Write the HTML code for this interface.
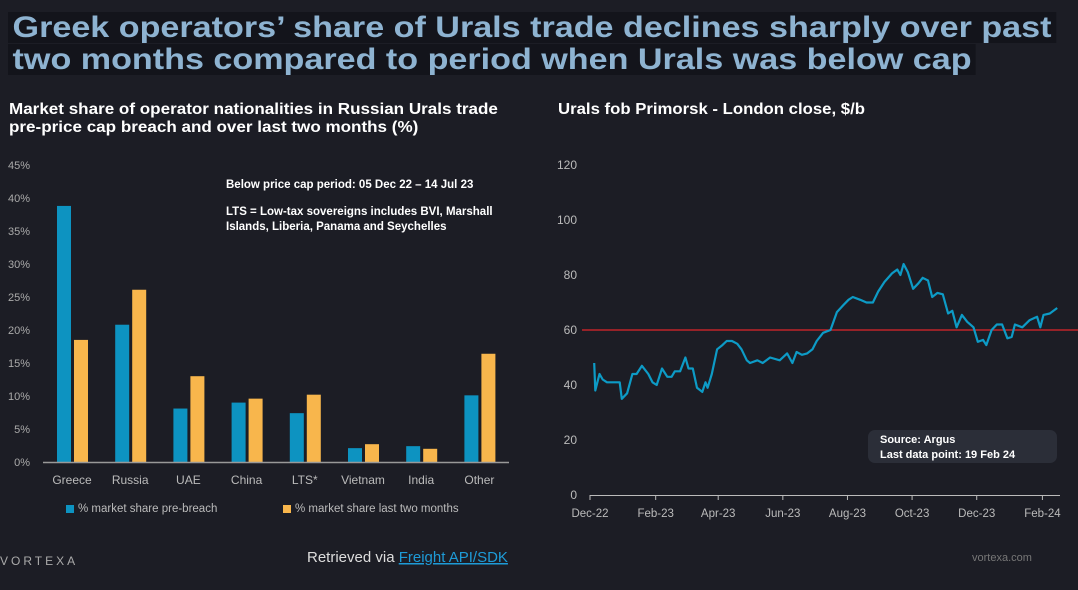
<!DOCTYPE html>
<html><head><meta charset="utf-8"><style>
body{margin:0;width:1078px;height:590px;background:#1c1d25;font-family:"Liberation Sans",sans-serif;overflow:hidden;position:relative}
.t{position:absolute;left:8px;background:#13141b;color:#8eb3d1;font-weight:bold;font-size:30px;line-height:31px;padding:0 4px;white-space:nowrap;transform:scaleX(1.137);transform-origin:0 0}
.s{position:absolute;color:#fff;font-weight:bold;font-size:15.5px;line-height:18px;white-space:nowrap;transform-origin:0 0}
</style></head><body>
<div class="t" style="top:12px">Greek operators’ share of Urals trade declines sharply over past</div>
<div class="t" style="top:44px">two months compared to period when Urals was below cap</div>
<div class="s" style="left:9px;top:101px;transform:scaleX(1.1)">Market share of operator nationalities in Russian Urals trade<br>pre-price cap breach and over last two months (%)</div>
<div class="s" style="left:558px;top:101px;transform:scaleX(1.08)">Urals fob Primorsk - London close, $/b</div>
<svg width="1078" height="590" style="position:absolute;left:0;top:0" font-family="Liberation Sans, sans-serif">
<g id="bar"></g>
<g id="line"></g>
<text x="226" y="188" fill="#fff" font-size="11.5" font-weight="bold">Below price cap period: 05 Dec 22 – 14 Jul 23</text>
<text x="226" y="215" fill="#fff" font-size="11.5" font-weight="bold">LTS = Low-tax sovereigns includes BVI, Marshall</text>
<text x="226" y="230" fill="#fff" font-size="11.5" font-weight="bold">Islands, Liberia, Panama and Seychelles</text>
<rect x="66" y="505" width="8" height="8" fill="#0d93c1"/>
<text x="78" y="512" fill="#bbb" font-size="11.5">% market share pre-breach</text>
<rect x="283" y="505" width="8" height="8" fill="#f8b64c"/>
<text x="295" y="512" fill="#bbb" font-size="11.5">% market share last two months</text>
<rect x="868" y="430" width="189" height="33" rx="7" fill="#2b2e38"/>
<text x="880" y="443" fill="#fff" font-size="11" font-weight="bold">Source: Argus</text>
<text x="880" y="458" fill="#fff" font-size="11" font-weight="bold">Last data point: 19 Feb 24</text>
<text x="0" y="565" fill="#aaa" font-size="12" letter-spacing="3">VORTEXA</text>
<text x="307" y="562" fill="#ddd" font-size="15">Retrieved via <tspan fill="#1e9bd7" text-decoration="underline">Freight API/SDK</tspan></text>
<text x="972" y="561" fill="#777" font-size="11">vortexa.com</text>
</svg>
<script>
const cats=["Greece","Russia","UAE","China","LTS*","Vietnam","India","Other"];
const preBreach=[38.8,20.8,8.1,9.0,7.4,2.1,2.4,10.1];
const lastTwo=[18.5,26.1,13.0,9.6,10.2,2.7,2.0,16.4];
const pctTicks=[0,5,10,15,20,25,30,35,40,45];
const days=[4,5,9,12,16,22,28,30,35,40,44,49,55,59,63,68,73,77,80,85,90,93,97,101,106,109,111,115,120,125,129,134,139,143,148,151,158,163,170,179,186,191,195,200,205,210,214,220,227,233,239,244,248,255,261,267,272,278,285,290,293,296,300,305,310,314,319,323,328,333,338,342,346,351,356,362,366,371,374,379,384,389,394,398,401,408,415,422,425,428,434,441];
const price=[48,38,44,42,41,41,41,35,37,44,44,47,44,41,40,46,43,43,45,45,50,46,46,39,37.5,41,39,44,53,54.5,56,56,55,53,49,48,49,48,50,49,51.5,48,52,51,51.5,53,56,59,60,66.5,69,71,72,71,70,70,74,77.5,80.6,82,80,84,81,75,77,79,78,72,73.5,73,66,67,61,65.5,63,61,55.7,56.4,54.5,60,62,62,57,57.5,62,61,63.6,64.8,61,65.5,66,68];
const priceTicks=[0,20,40,60,80,100,120];
const capLevel=[60];
const monthLabels=["Dec-22","Feb-23","Apr-23","Jun-23","Aug-23","Oct-23","Dec-23","Feb-24"];
const monthDays=[0,62,121,182,243,304,365,427];
const NS="http://www.w3.org/2000/svg";
function mk(p,t,a){const e=document.createElementNS(NS,t);for(const k in a)e.setAttribute(k,a[k]);p.appendChild(e);return e;}
const bg=document.getElementById('bar');
const yB=v=>462-v*6.6, xC=i=>72+i*58.2;
pctTicks.forEach(v=>{const t=mk(bg,'text',{x:30,y:yB(v)+4,fill:'#aaa','font-size':11,'text-anchor':'end'});t.textContent=v+'%';

});
cats.forEach((c,i)=>{
const b1=mk(bg,'rect',{x:xC(i)-15,y:yB(preBreach[i]),width:14,height:preBreach[i]*6.6,fill:'#0d93c1'});


const b2=mk(bg,'rect',{x:xC(i)+2,y:yB(lastTwo[i]),width:14,height:lastTwo[i]*6.6,fill:'#f8b64c'});


const t=mk(bg,'text',{x:xC(i),y:484,fill:'#bbb','font-size':12,'text-anchor':'middle'});t.textContent=c;


});
const ax=mk(bg,'line',{x1:43,x2:509,y1:462.5,y2:462.5,stroke:'#999','stroke-width':1.5});


const lg=document.getElementById('line');
const yL=v=>495-v*2.75, xD=d=>590+d*1.0595;
priceTicks.forEach(v=>{const t=mk(lg,'text',{x:577,y:yL(v)+4,fill:'#bbb','font-size':12,'text-anchor':'end'});t.textContent=v;

});
const xa=mk(lg,'line',{x1:590,x2:1060,y1:495.5,y2:495.5,stroke:'#bbb','stroke-width':1});


monthLabels.forEach((m,i)=>{mk(lg,'line',{x1:xD(monthDays[i]),x2:xD(monthDays[i]),y1:495,y2:500,stroke:'#bbb'});
const t=mk(lg,'text',{x:xD(monthDays[i]),y:517,fill:'#bbb','font-size':11.5,'text-anchor':'middle'});t.textContent=m;

});
const cap=mk(lg,'line',{x1:582,x2:1078,y1:yL(capLevel[0]),y2:yL(capLevel[0]),stroke:'#e0262b','stroke-width':1.2});


const pl=mk(lg,'polyline',{points:days.map((d,i)=>xD(d).toFixed(1)+','+yL(price[i]).toFixed(1)).join(' '),fill:'none',stroke:'#0d9bc6','stroke-width':2.2,'stroke-linejoin':'round'});


</script>
</body></html>
